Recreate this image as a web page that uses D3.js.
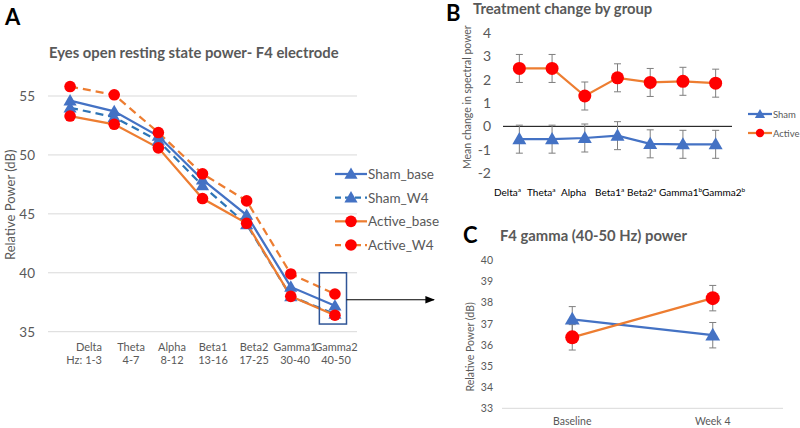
<!DOCTYPE html>
<html><head><meta charset="utf-8">
<script src="https://cdn.jsdelivr.net/npm/d3@7"></script>
<style>
body{margin:0;background:#fff;}
svg text{font-family:Lato,"Open Sans",sans-serif;fill:#595959;}
</style></head><body>
<svg id="c" width="800" height="428"></svg>
<script>
// ---------- Panel A data ----------
const bandsA = ["Delta","Theta","Alpha","Beta1","Beta2","Gamma1","Gamma2"];
const hzA = ["Hz:  1-3","4-7","8-12","13-16","17-25","30-40","40-50"];
const shamBase = [54.6,53.7,51.6,47.9,44.9,38.8,37.2];
const shamW4   = [54.0,53.2,51.2,47.4,44.1,38.0,36.5];
const activeBase = [53.3,52.6,50.6,46.3,44.2,38.0,36.4];
const activeW4   = [55.8,55.1,51.9,48.4,46.1,39.9,38.2];
const ticksA = [35,40,45,50,55];
// ---------- Panel B data ----------
const bandsB = ["Delta","Theta","Alpha","Beta1","Beta2","Gamma1","Gamma2"];
const supB = ["a","a","","a","a","b","b"];
const shamChange = [-0.55,-0.55,-0.5,-0.4,-0.75,-0.77,-0.77];
const shamErr    = [0.6,0.6,0.6,0.6,0.6,0.6,0.6];
const activeChange = [2.48,2.48,1.3,2.08,1.88,1.93,1.85];
const activeErr    = [0.6,0.6,0.6,0.6,0.6,0.6,0.6];
const ticksB = [-2,-1,0,1,2,3,4];
// ---------- Panel C data ----------
const timesC = ["Baseline","Week 4"];
const shamGamma = [37.2,36.45];
const shamGammaErr = [0.6,0.6];
const activeGamma = [36.35,38.2];
const activeGammaErr = [0.6,0.6];
const ticksC = [33,34,35,36,37,38,39,40];

const BLUE="#4472C4", BLUE2="#2E75B6", ORANGE="#ED7D31", RED="#FF0000", GREY="#595959", ERR="#7F7F7F";
const svg = d3.select("#c");
const tri = d3.symbol().type(d3.symbolTriangle);

// ================= Panel A =================
const xA = d3.scaleBand().domain(bandsA).range([48,357]);
const yA = d3.scaleLinear().domain([35,55]).range([331.7,96]);
const gA = svg.append("g");
gA.append("text").attr("x",5).attr("y",25).text("A").style("font-size","22px").style("font-weight","bold").style("fill","#000");
gA.append("text").attr("x",49).attr("y",58).text("Eyes open resting state power- F4 electrode")
  .style("font-size","14.8px").style("font-weight","bold");
gA.selectAll(".grid").data(ticksA).join("line")
  .attr("x1",48).attr("x2",357).attr("y1",d=>yA(d)).attr("y2",d=>yA(d))
  .attr("stroke","#d9d9d9").attr("stroke-width",1);
gA.selectAll(".yt").data(ticksA).join("text")
  .attr("x",35).attr("y",d=>yA(d)+5).attr("text-anchor","end").text(d=>d).style("font-size","13.5px");
gA.append("text").attr("transform","translate(15,"+(yA(45)-9)+") rotate(-90)").attr("text-anchor","middle")
  .text("Relative Power (dB)").style("font-size","13px");
// x labels
const labA = d3.scalePoint().domain(bandsA).range([90,336]);
bandsA.forEach((b,i)=>{
  const first = i===0;
  gA.append("text").attr("x", first? 102 : labA(b)).attr("y",351).attr("text-anchor", first?"end":"middle")
    .text(b).style("font-size","11px");
  gA.append("text").attr("x", first? 102 : labA(b)).attr("y",364).attr("text-anchor", first?"end":"middle")
    .text(hzA[i]).style("font-size","11px");
});
const seriesA = [
  {name:"Sham_base", vals:shamBase, color:BLUE, dash:null, mk:"tri"},
  {name:"Sham_W4", vals:shamW4, color:BLUE2, dash:"8,5", mk:"tri"},
  {name:"Active_base", vals:activeBase, color:ORANGE, dash:null, mk:"circ"},
  {name:"Active_W4", vals:activeW4, color:ORANGE, dash:"8,5", mk:"circ"}
];
const lineA = d3.line().x((d,i)=>xA(bandsA[i])+xA.bandwidth()/2).y(d=>yA(d));
function marker(g,type,x,y,color,size){
  if(type==="tri"){
    g.append("path").attr("d",tri.size(size||70)()).attr("transform",`translate(${x},${y+1})`).attr("fill",color);
  } else {
    g.append("circle").attr("cx",x).attr("cy",y).attr("r",size||5.5).attr("fill",RED);
  }
}
seriesA.forEach(s=>{
  gA.append("path").attr("d",lineA(s.vals)).attr("fill","none").attr("stroke",s.color)
    .attr("stroke-width",2.25).attr("stroke-dasharray",s.dash);
});
seriesA.forEach(s=>{
  s.vals.forEach((v,i)=>marker(gA,s.mk,xA(bandsA[i])+xA.bandwidth()/2,yA(v),s.mk==="tri"?BLUE:RED,s.mk==="tri"?75:5.8));
});
// legend
const legY = d3.scalePoint().domain(seriesA.map(s=>s.name)).range([174,245]);
seriesA.forEach(s=>{
  const y=legY(s.name);
  gA.append("line").attr("x1",335).attr("x2",367).attr("y1",y).attr("y2",y).attr("stroke",s.color)
    .attr("stroke-width",2.25).attr("stroke-dasharray",s.dash?"6,4":null);
  marker(gA,s.mk,351,y,s.mk==="tri"?BLUE:RED,s.mk==="tri"?75:5.8);
  gA.append("text").attr("x",368).attr("y",y+5).text(s.name).style("font-size","13.5px");
});
// highlight box & arrow
const gx = xA("Gamma2");
gA.append("rect").attr("x",gx+6.5).attr("y",yA(40)).attr("width",xA.bandwidth()-17).attr("height",yA(35.65)-yA(40))
  .attr("fill","none").attr("stroke","#2F5597").attr("stroke-width",1.5);
svg.append("defs").append("marker").attr("id","arr").attr("viewBox","0 0 10 10").attr("refX",9).attr("refY",5)
  .attr("markerWidth",8).attr("markerHeight",8).attr("orient","auto")
  .append("path").attr("d","M0,1L10,5L0,9z").attr("fill","#000");
gA.append("line").attr("x1",gx+xA.bandwidth()-10.5).attr("x2",434).attr("y1",yA(37.2)-6).attr("y2",yA(37.2)-6)
  .attr("stroke","#000").attr("stroke-width",1.2).attr("marker-end","url(#arr)");

// ================= Panel B =================
const xB = d3.scaleBand().domain(bandsB).range([503,732]);
const yB = d3.scaleLinear().domain([-2,4]).range([173,33]);
const cxB = b=>xB(b)+xB.bandwidth()/2;
const gB = svg.append("g");
gB.append("text").attr("x",446).attr("y",21).text("B").style("font-size","22px").style("font-weight","bold").style("fill","#000");
gB.append("text").attr("x",473).attr("y",14).text("Treatment change by group").style("font-size","14.8px").style("font-weight","bold");
gB.selectAll(".yt").data(ticksB).join("text").attr("x",491).attr("y",d=>yB(d)+5).attr("text-anchor","end")
  .text(d=>d).style("font-size","14px");
gB.append("line").attr("x1",503).attr("x2",732).attr("y1",yB(0)).attr("y2",yB(0)).attr("stroke","#000").attr("stroke-width",1);
gB.append("text").attr("transform","translate(471,"+yB(1.25)+") rotate(-90)").attr("text-anchor","middle")
  .text("Mean change in spectral power").style("font-size","10.5px");
// x labels (label start positions as typeset in the original figure)
const labB = d3.scaleOrdinal().domain(bandsB).range([494,527,561,595,627,659,702]);
bandsB.forEach((b,i)=>{
  const t = gB.append("text").attr("x",labB(b)).attr("y",196).style("font-size","10px").style("fill","#000");
  t.append("tspan").text(b);
  if(supB[i]) t.append("tspan").attr("y",192).style("font-size","6.5px").text(supB[i]);
});
const seriesB = [
  {name:"Sham", vals:shamChange, err:shamErr, color:BLUE, mk:"tri"},
  {name:"Active", vals:activeChange, err:activeErr, color:ORANGE, mk:"circ"}
];
const lineB = d3.line().x((d,i)=>cxB(bandsB[i])).y(d=>yB(d));
seriesB.forEach(s=>{
  s.vals.forEach((v,i)=>{
    const x=cxB(bandsB[i]);
    gB.append("line").attr("x1",x).attr("x2",x).attr("y1",yB(v+s.err[i])).attr("y2",yB(v-s.err[i])).attr("stroke",ERR).attr("stroke-width",1);
    [v+s.err[i],v-s.err[i]].forEach(e=>gB.append("line").attr("x1",x-3.5).attr("x2",x+3.5).attr("y1",yB(e)).attr("y2",yB(e)).attr("stroke",ERR).attr("stroke-width",1));
  });
  gB.append("path").attr("d",lineB(s.vals)).attr("fill","none").attr("stroke",s.color).attr("stroke-width",2.25);
  s.vals.forEach((v,i)=>marker(gB,s.mk,cxB(bandsB[i]),yB(v),s.mk==="tri"?BLUE:RED,s.mk==="tri"?85:6.5));
});
const legB = d3.scalePoint().domain(["Sham","Active"]).range([114,133]);
seriesB.forEach(s=>{
  const y=legB(s.name);
  gB.append("line").attr("x1",748).attr("x2",772).attr("y1",y).attr("y2",y).attr("stroke",s.color).attr("stroke-width",2.25);
  marker(gB,s.mk,760,y,s.mk==="tri"?BLUE:RED,s.mk==="tri"?45:4.2);
  gB.append("text").attr("x",773).attr("y",y+3.5).text(s.name).style("font-size","9.5px");
});

// ================= Panel C =================
const xC = d3.scaleBand().domain(timesC).range([502,783]);
const yC = d3.scaleLinear().domain([33,40]).range([408.3,260]);
const cxC = t=>xC(t)+xC.bandwidth()/2;
const gC = svg.append("g");
gC.append("text").attr("x",463).attr("y",243).text("C").style("font-size","22px").style("font-weight","bold").style("fill","#000");
gC.append("text").attr("x",500).attr("y",241).text("F4 gamma (40-50 Hz) power").style("font-size","14.8px").style("font-weight","bold");
gC.selectAll(".yt").data(ticksC).join("text").attr("x",493).attr("y",d=>yC(d)+4).attr("text-anchor","end")
  .text(d=>d).style("font-size","10.5px");
gC.append("line").attr("x1",502).attr("x2",783).attr("y1",yC(33)).attr("y2",yC(33)).attr("stroke","#d9d9d9").attr("stroke-width",1);
gC.append("text").attr("transform","translate(474,"+yC(35.9)+") rotate(-90)").attr("text-anchor","middle")
  .text("Relative Power (dB)").style("font-size","10.5px");
gC.selectAll(".xt").data(timesC).join("text").attr("x",d=>cxC(d)).attr("y",425).attr("text-anchor","middle")
  .text(d=>d).style("font-size","10.5px");
const seriesC = [
  {name:"Sham", vals:shamGamma, err:shamGammaErr, color:BLUE, mk:"tri"},
  {name:"Active", vals:activeGamma, err:activeGammaErr, color:ORANGE, mk:"circ"}
];
const lineC = d3.line().x((d,i)=>cxC(timesC[i])).y(d=>yC(d));
seriesC.forEach(s=>{
  s.vals.forEach((v,i)=>{
    const x=cxC(timesC[i]);
    gC.append("line").attr("x1",x).attr("x2",x).attr("y1",yC(v+s.err[i])).attr("y2",yC(v-s.err[i])).attr("stroke",ERR).attr("stroke-width",1);
    [v+s.err[i],v-s.err[i]].forEach(e=>gC.append("line").attr("x1",x-3.5).attr("x2",x+3.5).attr("y1",yC(e)).attr("y2",yC(e)).attr("stroke",ERR).attr("stroke-width",1));
  });
});
seriesC.forEach(s=>{
  gC.append("path").attr("d",lineC(s.vals)).attr("fill","none").attr("stroke",s.color).attr("stroke-width",2.25);
  s.vals.forEach((v,i)=>marker(gC,s.mk,cxC(timesC[i]),yC(v),s.mk==="tri"?BLUE:RED,s.mk==="tri"?95:7));
});
</script></body></html>
